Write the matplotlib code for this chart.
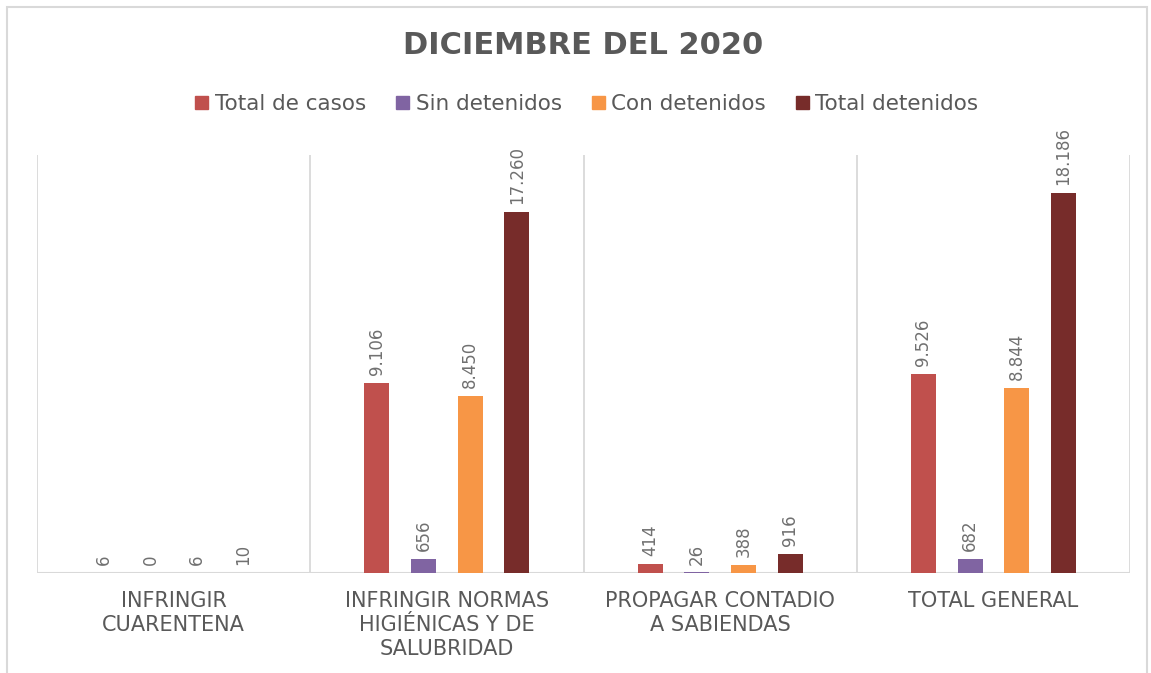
import matplotlib.pyplot as plt
import numpy as np
from matplotlib.patches import Rectangle, Patch

categories = ["INFRINGIR\nCUARENTENA",
              "INFRINGIR NORMAS\nHIGIÉNICAS Y DE\nSALUBRIDAD",
              "PROPAGAR CONTADIO\nA SABIENDAS",
              "TOTAL GENERAL"]
series_names = ["Total de casos", "Sin detenidos", "Con detenidos", "Total detenidos"]
total_casos = [6, 9106, 414, 9526]
sin_detenidos = [0, 656, 26, 682]
con_detenidos = [6, 8450, 388, 8844]
total_detenidos = [10, 17260, 916, 18186]

colors = ["#C0504D", "#8064A2", "#F79646", "#772C2A"]
text_gray = "#595959"
grid_gray = "#D9D9D9"

series = [total_casos, sin_detenidos, con_detenidos, total_detenidos]


def fmt(v):
    return f"{v:,}".replace(",", ".")


fig = plt.figure(figsize=(11.51, 6.73), dpi=100)
ax = fig.add_axes([37 / 1151, 1 - 573 / 673, (1130 - 37) / 1151, (573 - 155) / 673])

x = np.arange(len(categories))
offsets = [-0.256, -0.085, 0.085, 0.256]
width = 0.092
for vals, off, c in zip(series, offsets, colors):
    bars = ax.bar(x + off, vals, width, color=c, zorder=3)
    for b, v in zip(bars, vals):
        ax.text(b.get_x() + b.get_width() / 2, b.get_height() + 380, fmt(v),
                rotation=90, ha="center", va="bottom", fontsize=12,
                color="#707070", zorder=4)

ax.set_xlim(-0.5, len(categories) - 0.5)
ax.set_ylim(0, 20000)
ax.set_yticks([])
for xv in np.arange(-0.5, len(categories), 1.0):
    ax.axvline(xv, color=grid_gray, lw=1.3, zorder=1)
ax.axhline(0, color=grid_gray, lw=1.5, zorder=2)
for s in ax.spines.values():
    s.set_visible(False)
ax.set_xticks(x)
ax.set_xticklabels(categories, fontsize=15, color=text_gray, linespacing=1.25)
ax.tick_params(axis="x", length=0, pad=13)

fig.text(583 / 1151, 1 - 45 / 673, "DICIEMBRE DEL 2020", ha="center", va="center",
         fontsize=22, fontweight="bold", color=text_gray)

handles = [Patch(color=c) for c in colors]
fig.legend(handles, series_names, loc="center", bbox_to_anchor=(587 / 1151, 1 - 104 / 673),
           ncol=4, frameon=False, fontsize=15.5, handlelength=0.6, handleheight=0.6,
           handletextpad=0.3, columnspacing=1.4, labelcolor=text_gray)

fig.patches.append(Rectangle((7 / 1151, -0.05), (1147 - 7) / 1151, 1.05 - 7 / 673,
                             transform=fig.transFigure, fill=False,
                             edgecolor=grid_gray, lw=1.5))

fig.savefig("out.png", dpi=100)
